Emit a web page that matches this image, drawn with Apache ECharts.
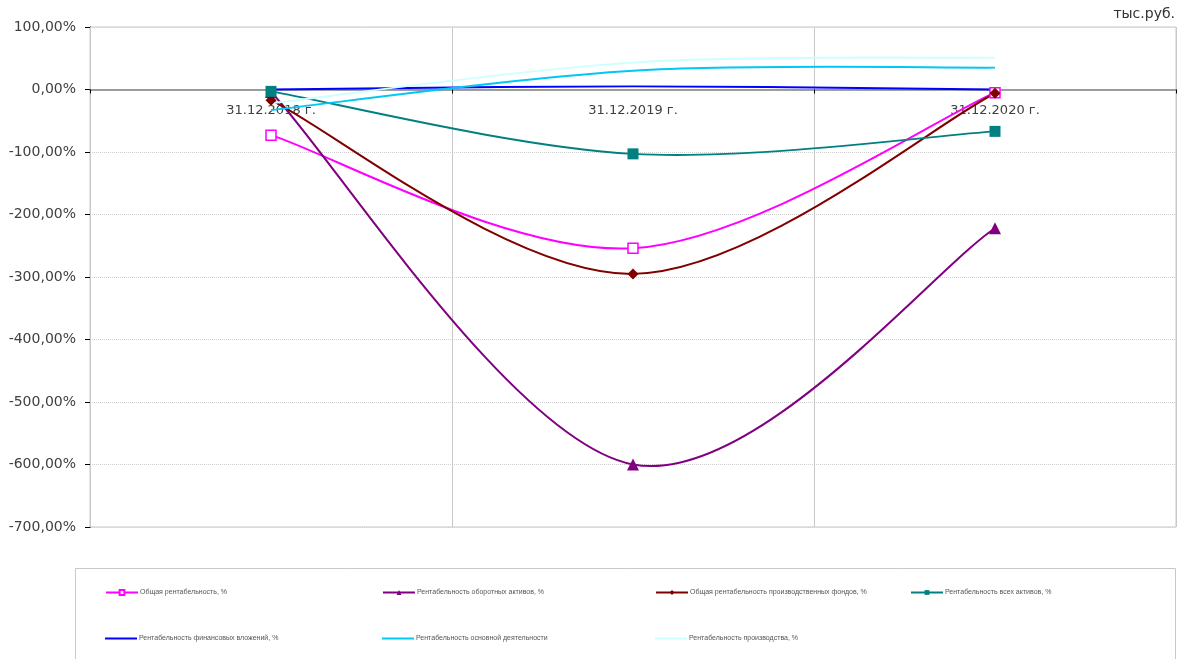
<!DOCTYPE html>
<html>
<head>
<meta charset="utf-8">
<script src="https://cdn.jsdelivr.net/npm/echarts@6/dist/echarts.min.js"></script>
<style>
  html, body { margin: 0; padding: 0; background: #fff; }
  #chart { width: 1182px; height: 659px; }
</style>
</head>
<body>
<div id="chart"></div>
<script>
// Reporting dates
const categories = ['31.12.2018 г.', '31.12.2019 г.', '31.12.2020 г.'];

// Profitability indicators, %
const seriesNames = [
  'Общая рентабельность, %',
  'Рентабельность оборотных активов, %',
  'Общая рентабельность производственных фондов, %',
  'Рентабельность всех активов, %',
  'Рентабельность финансовых вложений, %',
  'Рентабельность основной деятельности',
  'Рентабельность производства, %'
];
const totalProfitability      = [-73, -254, -5];
const currentAssetsReturn     = [-4, -600, -222];
const productionFundsReturn   = [-17, -295, -6];
const totalAssetsReturn       = [-3, -103, -67];
const financialInvestReturn   = [0, 5, 0];
const coreActivityReturn      = [-33, 30, 35];
const productionReturn        = [-22, 43, 51];

// Value axis ticks
const yMin = -700, yMax = 100, yStep = 100;

const seriesValues = [
  totalProfitability, currentAssetsReturn, productionFundsReturn,
  totalAssetsReturn, financialInvestReturn, coreActivityReturn, productionReturn
];
const colors = ['#ff00ff', '#800080', '#800000', '#008080', '#0000ff', '#00c8f5', '#ccffff'];
const symbols = ['rect', 'triangle', 'diamond', 'rect', 'none', 'none', 'none'];
const symbolSizes = [10, 12, 11, 11, 0, 0, 0];

// Plot area
const gridLeft = 90, gridRight = 6, gridTop = 27, gridBottom = 132;
const chartH = 659;
const plotH = chartH - gridTop - gridBottom;
// shift the category axis up from the plot bottom to the zero line
const zeroOffset = -plotH * (0 - yMin) / (yMax - yMin);

// Spline tension used for the smoothed curves (cardinal spline, 1/6 per side)
const TENSION = 1 / 6;

const chart = echarts.init(document.getElementById('chart'), null, { renderer: 'canvas' });

// Smoothed curve through the series points, built from axis coordinates
function splineRenderer(values, color) {
  return function (params, api) {
    if (params.dataIndex !== 0) return null;
    const pts = values.map((v, i) => api.coord([i, v]));
    const n = pts.length;
    const children = [];
    for (let i = 0; i < n - 1; i++) {
      const p0 = pts[Math.max(i - 1, 0)];
      const p1 = pts[i];
      const p2 = pts[i + 1];
      const p3 = pts[Math.min(i + 2, n - 1)];
      children.push({
        type: 'bezierCurve',
        shape: {
          x1: p1[0], y1: p1[1],
          cpx1: p1[0] + (p2[0] - p0[0]) * TENSION,
          cpy1: p1[1] + (p2[1] - p0[1]) * TENSION,
          cpx2: p2[0] - (p3[0] - p1[0]) * TENSION,
          cpy2: p2[1] - (p3[1] - p1[1]) * TENSION,
          x2: p2[0], y2: p2[1]
        },
        style: { stroke: color, lineWidth: 2, fill: null },
        silent: true
      });
    }
    return { type: 'group', children: children };
  };
}

// Marker series (also drive the legend)
const markerSeries = seriesNames.map((name, i) => ({
  name: name,
  type: 'line',
  data: seriesValues[i],
  symbol: symbols[i],
  symbolSize: symbolSizes[i],
  showSymbol: symbols[i] !== 'none',
  lineStyle: { color: colors[i], width: 2, opacity: 0 },
  itemStyle: i === 0
    ? { color: '#ffffff', borderColor: colors[i], borderWidth: 1.5 }
    : { color: colors[i], borderWidth: 0 },
  emphasis: { disabled: true },
  z: 20 + i
}));

// Curve series
const curveSeries = seriesValues.map((vals, i) => ({
  type: 'custom',
  data: vals.map((v, k) => [k, v]),
  encode: { x: 0, y: 1 },
  renderItem: splineRenderer(vals, colors[i]),
  silent: true,
  z: 10 + i
}));

// Legend laid out in a 4-column grid inside a bordered box
const legendCols = [105, 382, 655, 910];
const legendRows = [589, 635];
const legends = seriesNames.map((name, i) => {
  const plain = symbols[i] === 'none';
  return {
    data: [name],
    left: legendCols[i % 4],
    top: legendRows[Math.floor(i / 4)],
    padding: 0,
    itemWidth: 32,
    itemHeight: plain ? 2 : 6,
    icon: plain ? 'rect' : undefined,
    itemGap: 2,
    selectedMode: false,
    lineStyle: { color: colors[i], width: 2, opacity: 1 },
    textStyle: { fontFamily: 'Liberation Sans', fontSize: 7, color: '#555555', padding: [0, 0, 0, -3] }
  };
});

const option = {
  animation: false,
  backgroundColor: '#ffffff',
  title: {
    text: 'тыс.руб.',
    right: 7,
    top: 7,
    padding: 0,
    textStyle: { fontFamily: 'DejaVu Sans', fontSize: 14, fontWeight: 'normal', color: '#333333' }
  },
  legend: legends,
  grid: {
    left: gridLeft, right: gridRight, top: gridTop, bottom: gridBottom,
    show: true, borderColor: '#c8c8c8', borderWidth: 1, backgroundColor: 'transparent'
  },
  graphic: [{
    type: 'rect',
    shape: { x: 75.5, y: 568.5, width: 1100, height: 100 },
    style: { fill: 'none', stroke: '#c8c8c8', lineWidth: 1 },
    silent: true,
    z: 0
  }],
  xAxis: {
    type: 'category',
    data: categories,
    boundaryGap: true,
    position: 'bottom',
    offset: zeroOffset,
    axisLine: { onZero: false, lineStyle: { color: '#808080', width: 1.5 } },
    axisTick: { show: true, length: 4, lineStyle: { color: '#000000' } },
    axisLabel: { fontFamily: 'DejaVu Sans', fontSize: 13, color: '#404040', margin: 15 },
    splitLine: { show: true, lineStyle: { color: '#c8c8c8', type: 'solid' } },
    z: 1
  },
  yAxis: {
    type: 'value',
    min: yMin, max: yMax, interval: yStep,
    axisLine: { show: true, lineStyle: { color: '#000000' } },
    axisTick: { show: true, length: 5, lineStyle: { color: '#000000' } },
    axisLabel: {
      fontFamily: 'DejaVu Sans', fontSize: 14, color: '#404040', margin: 14,
      formatter: v => v.toFixed(2).replace('.', ',') + '%'
    },
    splitLine: { show: true, lineStyle: { color: '#cfcfcf', type: 'dotted' } }
  },
  series: markerSeries.concat(curveSeries)
};

chart.setOption(option);
</script>
</body>
</html>
